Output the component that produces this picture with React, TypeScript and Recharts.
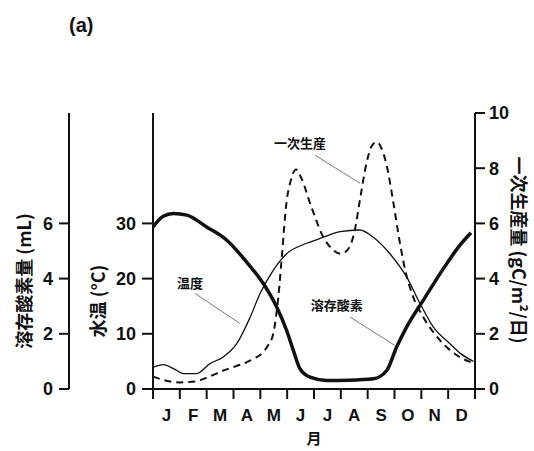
import { LineChart, Line, XAxis, YAxis, ReferenceLine, ReferenceDot } from "recharts";

// months along the bottom, ticks sit on month boundaries
const monthNames = ["J", "F", "M", "A", "M", "J", "J", "A", "S", "O", "N", "D"];
const monthTicks = [0, 1, 2, 3, 4, 5, 6, 7, 8, 9, 10, 11, 12];

// dissolved oxygen (mL)
const oxygenMonths = [0, 0.38, 0.76, 1.26, 2.0, 2.75, 3.49, 4.11, 4.61, 4.98, 5.23, 5.48, 5.85, 6.47, 7.3, 8.21, 8.71, 9.08, 9.45, 10.07, 10.7, 11.44, 11.85];
const oxygenValues = [5.87, 6.26, 6.36, 6.3, 5.87, 5.39, 4.6, 3.82, 2.97, 2.12, 1.4, 0.73, 0.43, 0.31, 0.32, 0.37, 0.67, 1.52, 2.24, 3.21, 4.18, 5.21, 5.66];

// water temperature (°C)
const tempMonths = [0, 0.38, 0.8, 1.13, 1.63, 2.12, 2.62, 3.12, 3.62, 3.99, 4.48, 4.98, 5.73, 6.35, 6.97, 7.71, 8.21, 8.83, 9.45, 9.95, 10.45, 11.07, 11.44, 11.94];
const tempValues = [3.9, 4.4, 3.6, 2.8, 2.8, 4.6, 5.8, 8.2, 13.0, 17.3, 21.5, 24.5, 26.4, 27.5, 28.5, 28.8, 27.5, 24.5, 20.3, 15.5, 11.2, 8.2, 6.5, 5.0];

// primary production (gC/m2/day)
const prodMonths = [0, 0.5, 1.0, 1.57, 2.1, 2.63, 3.1, 3.49, 3.8, 4.11, 4.3, 4.48, 4.67, 4.8, 4.98, 5.12, 5.33, 5.5, 5.9, 6.35, 6.7, 7.0, 7.3, 7.53, 7.72, 7.96, 8.15, 8.34, 8.5, 8.71, 8.95, 9.2, 9.4, 9.7, 10.07, 10.7, 11.44, 11.94];
const prodValues = [0.45, 0.3, 0.24, 0.27, 0.45, 0.67, 0.83, 0.97, 1.12, 1.34, 1.6, 2.0, 3.33, 4.78, 6.8, 7.5, 7.95, 7.7, 6.6, 5.5, 5.05, 4.9, 5.1, 5.8, 6.9, 8.2, 8.8, 8.95, 8.75, 8.1, 6.8, 5.3, 4.3, 3.33, 2.61, 1.76, 1.15, 0.94];

const toRows = (ms: number[], vs: number[]) => ms.map((m, i) => ({ m, v: vs[i] }));
const oxygenData = toRows(oxygenMonths, oxygenValues);
const tempData = toRows(tempMonths, tempValues);
const prodData = toRows(prodMonths, prodValues);

const W = 534;
const H = 451;
const TEMP_W = 84;
const DO_W = 69;
const RIGHT_W = 59;
const PLOT_W = W - TEMP_W - DO_W - RIGHT_W;

const NUM_FONT = "'Liberation Sans', Arial, sans-serif";
const JP_FONT = "'Noto Sans CJK JP', 'Noto Sans', sans-serif";
const INK = "#111";

const tickStyle = { fill: INK, fontSize: 18, fontWeight: 700, fontFamily: NUM_FONT };
const axisStroke = { stroke: INK, strokeWidth: 2 };

function MonthTick(props: any) {
  const { x, y, payload } = props;
  if (payload.value >= 12) return null;
  return (
    <text x={x + PLOT_W / 24} y={y} dy="0.71em" textAnchor="middle" fill={INK} fontSize={17} fontWeight={700} fontFamily={NUM_FONT}>
      {monthNames[payload.value]}
    </text>
  );
}

function sideLabel(text: string, dx: number, dy: number, angle: number) {
  return (props: any) => {
    const vb = props.viewBox || {};
    const cx = vb.x + dx;
    const cy = vb.y + dy;
    return (
      <text x={cx} y={cy} transform={`rotate(${angle} ${cx} ${cy})`} textAnchor="middle" dominantBaseline="central"
        fill={INK} fontSize={18} fontWeight={700} fontFamily={JP_FONT}>
        {text}
      </text>
    );
  };
}

function monthLabel(props: any) {
  const vb = props.viewBox || {};
  return (
    <text x={vb.x + vb.width / 2} y={vb.y + 48} textAnchor="middle" dominantBaseline="central" fill={INK} fontSize={15} fontWeight={700} fontFamily={JP_FONT}>
      月
    </text>
  );
}

const noteStyle = { fill: INK, fontSize: 13, fontWeight: 700, fontFamily: JP_FONT };

export default function App() {
  return (
    <div style={{ position: "absolute", left: 0, top: 0, width: W, height: H, background: "#fff" }}>
      <div style={{ position: "absolute", left: 69, top: 14, fontFamily: NUM_FONT, fontWeight: 700, fontSize: 20, color: INK }}>(a)</div>
      <LineChart width={W} height={H} margin={{ top: 113, right: 0, bottom: 32, left: 0 }}>
        <XAxis xAxisId="m" type="number" dataKey="m" domain={[0, 12]} ticks={monthTicks} interval={0}
          height={30} tickSize={10} tickMargin={10} axisLine={axisStroke} tickLine={axisStroke}
          tick={<MonthTick />} label={monthLabel} />
        <YAxis yAxisId="a_temp" orientation="left" width={TEMP_W} domain={[0, 50]} ticks={[0, 10, 20, 30]}
          tickSize={11} tickMargin={6} axisLine={axisStroke} tickLine={axisStroke} tick={tickStyle}
          label={sideLabel("水温 (°C)", 28, 188, -90)} />
        <YAxis yAxisId="b_do" orientation="left" width={DO_W} domain={[0, 10]} ticks={[0, 2, 4, 6]}
          tickSize={10} tickMargin={6} axisLine={axisStroke} tickLine={axisStroke} tick={tickStyle}
          label={sideLabel("溶存酸素量 (mL)", 23, 168, -90)} />
        <YAxis yAxisId="prod" orientation="right" width={RIGHT_W} domain={[0, 10]} ticks={[0, 2, 4, 6, 8, 10]}
          tickSize={10} tickMargin={4} axisLine={axisStroke} tickLine={axisStroke} tick={tickStyle}
          label={sideLabel("一次生産量 (gC/m²/日)", 45, 137, 90)} />

        <ReferenceLine xAxisId="m" yAxisId="prod" segment={[{ x: 6.04, y: 8.47 }, { x: 7.72, y: 7.45 }]} stroke="#777" strokeWidth={1} />
        <ReferenceLine xAxisId="m" yAxisId="prod" segment={[{ x: 1.57, y: 3.46 }, { x: 3.24, y: 2.37 }]} stroke="#777" strokeWidth={1} />
        <ReferenceLine xAxisId="m" yAxisId="prod" segment={[{ x: 7.34, y: 2.61 }, { x: 9.01, y: 1.58 }]} stroke="#777" strokeWidth={1} />
        <ReferenceDot xAxisId="m" yAxisId="prod" x={5.48} y={8.91} r={0} fill="none" stroke="none"
          label={{ value: "一次生産", position: "center", ...noteStyle }} />
        <ReferenceDot xAxisId="m" yAxisId="prod" x={1.38} y={3.82} r={0} fill="none" stroke="none"
          label={{ value: "温度", position: "center", ...noteStyle }} />
        <ReferenceDot xAxisId="m" yAxisId="prod" x={6.85} y={3.03} r={0} fill="none" stroke="none"
          label={{ value: "溶存酸素", position: "center", ...noteStyle }} />

        <Line xAxisId="m" yAxisId="a_temp" data={tempData} dataKey="v" type="monotone" stroke={INK} strokeWidth={1.3} dot={false} isAnimationActive={false} />
        <Line xAxisId="m" yAxisId="prod" data={prodData} dataKey="v" type="monotone" stroke={INK} strokeWidth={2} strokeDasharray="7 5" dot={false} isAnimationActive={false} />
        <Line xAxisId="m" yAxisId="b_do" data={oxygenData} dataKey="v" type="monotone" stroke={INK} strokeWidth={3.5} dot={false} isAnimationActive={false} />
      </LineChart>
    </div>
  );
}
